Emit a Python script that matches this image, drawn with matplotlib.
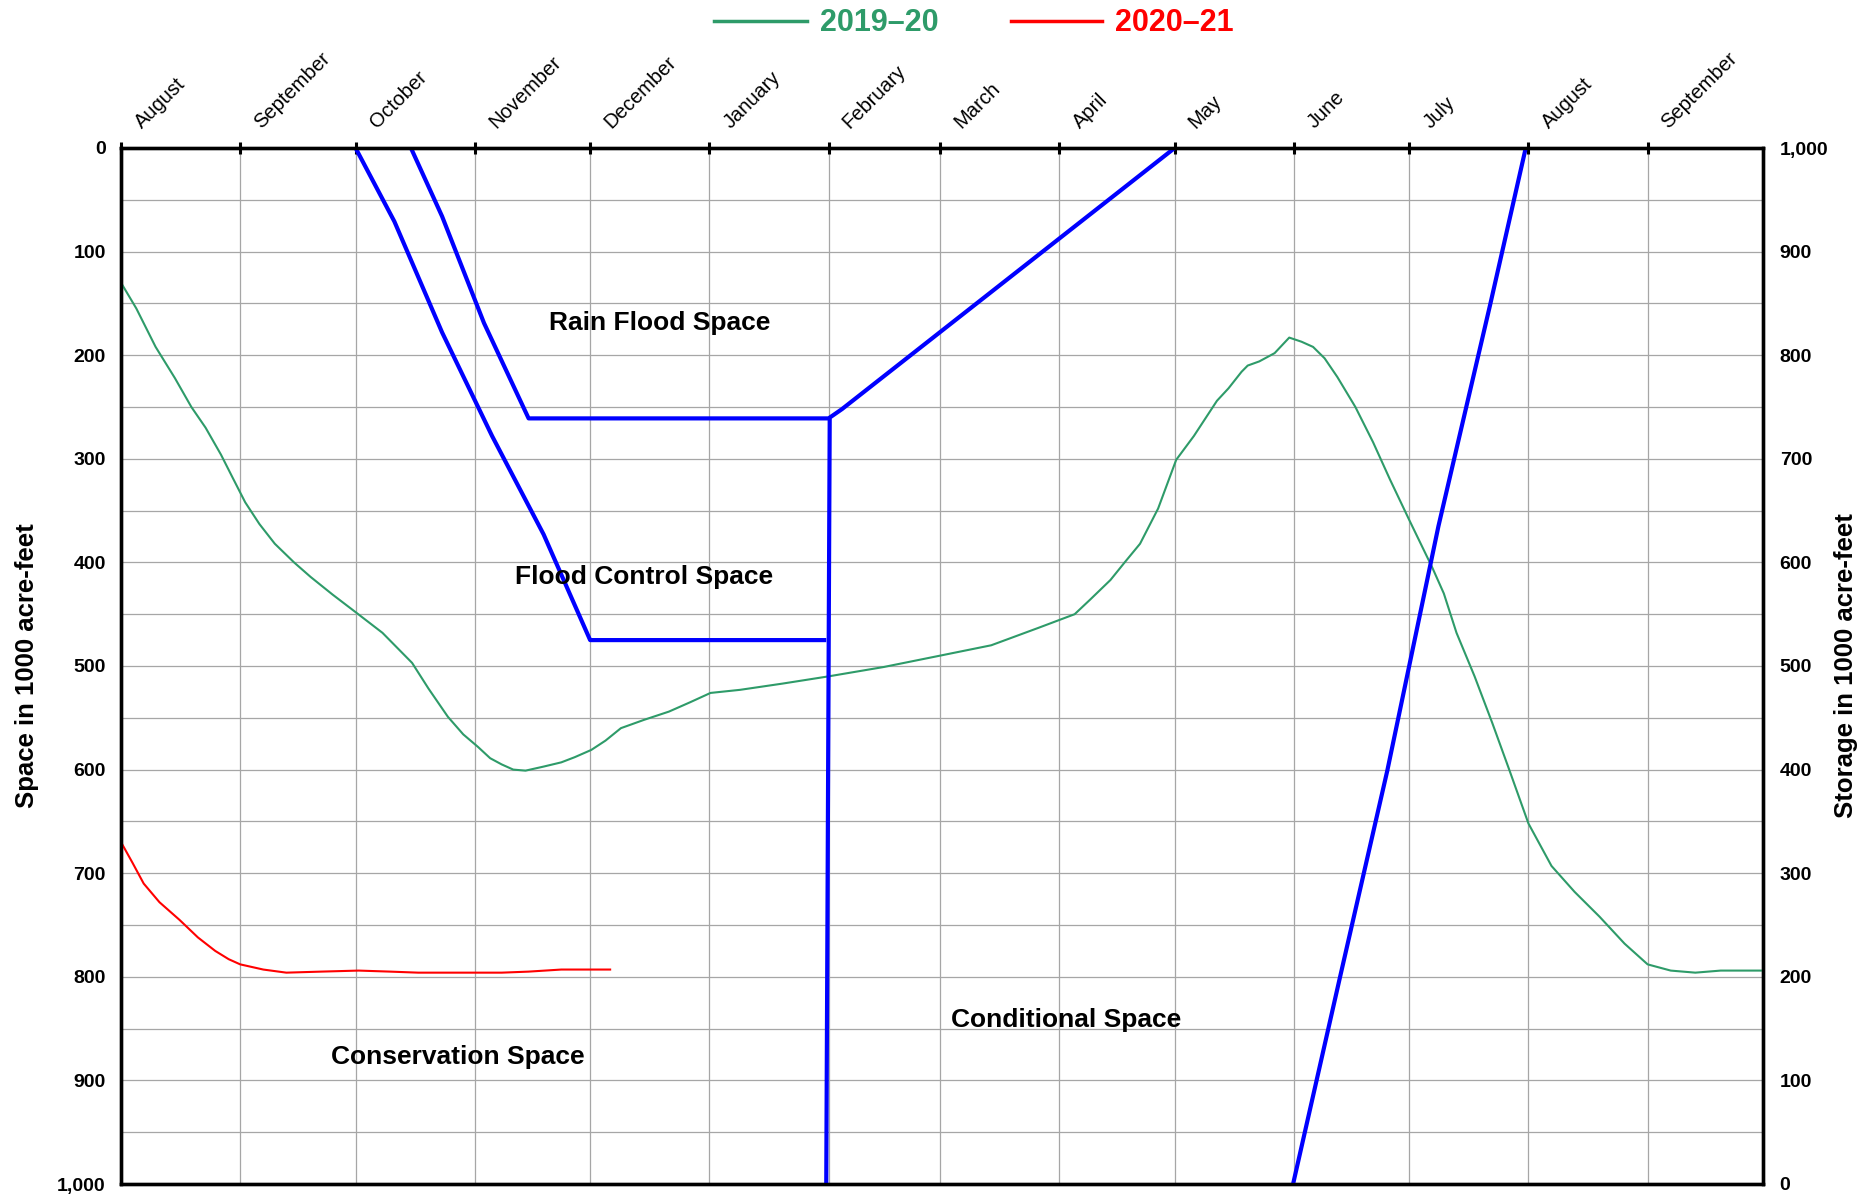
import matplotlib
matplotlib.use("Agg")
import matplotlib.pyplot as plt
from matplotlib.ticker import FuncFormatter, MultipleLocator
import matplotlib.transforms as mtransforms

plt.rcParams['font.family'] = ['Liberation Sans', 'DejaVu Sans']

# Month starts (days since Aug 1, 2019) and labels
month_starts = [0, 31, 61, 92, 122, 153, 184, 213, 244, 274, 305, 335, 366, 397]
month_labels = ["August", "September", "October", "November", "December", "January",
                "February", "March", "April", "May", "June", "July", "August", "September"]
x_end = 427

# 2019-20 space (1000 acre-feet), day offsets
g_day = [0, 4, 9, 14, 18.3, 22, 26, 29, 32.3, 36, 40, 45, 49.3, 55, 61, 68, 75.7, 80, 85, 89,
         92.8, 96, 99, 102, 105.2, 110, 114.5, 118, 122.3, 126, 130, 136, 142.5, 148, 153.3,
         161, 172, 184, 198.3, 213, 226.3, 238.7, 248, 252, 257.3, 261, 265, 269.7,
         274.4, 279, 285, 288, 291.4, 293, 296, 300, 303.8, 307, 310, 313, 316.3, 321, 325.6,
         330, 335, 341, 344, 347.3, 352, 356.6, 361, 366, 372, 378, 384.5, 391, 397, 403,
         409.4, 416, 427]
g_val = [130, 155, 192, 222, 250, 270, 296, 318, 342, 363, 382, 400, 414, 431, 448, 468, 497,
         522, 549, 566, 578, 589, 595, 600, 601, 597, 593, 588, 581, 572, 560, 552, 544, 535,
         526, 523, 517, 510, 501, 490, 480, 463, 450, 436, 417, 400, 382, 348,
         301, 278, 244, 232, 216, 210, 206, 198, 183, 187, 192, 203, 221, 250, 284,
         320, 359, 405, 430, 468, 510, 555, 600, 652, 693, 718, 742, 768, 788, 794,
         796, 794, 794]

# 2020-21 space
r_day = [0, 3, 5.9, 10, 15.2, 20, 24.5, 28, 31, 37, 43, 52, 61.8, 70, 77.3, 88, 99, 106, 114.5, 120, 127.2]
r_val = [670, 690, 710, 728, 745, 762, 775, 783, 788, 793, 796, 795, 794, 795, 796, 796, 796, 795, 793, 793, 793]

# Flood control space boundary
fc_day = [61, 71.1, 83.5, 96.5, 109.9, 122, 183.4]
fc_val = [0, 71, 178, 278, 373, 475, 475]

# Rain flood space boundary
rf_day = [75.4, 83.5, 94.4, 106, 184, 187.5, 274]
rf_val = [0, 66, 169, 261, 261, 252, 0]

# Conditional space vertical boundary
cv_day = [184.3, 183.4]
cv_val = [261, 1000]

# Conditional space (summer) boundary
cs_day = [304.8, 316.9, 329.3, 342.6, 356, 365.3]
cs_val = [1000, 802, 601, 365, 152, 0]

# Region labels
region_text = ["Rain Flood Space", "Flood Control Space", "Conditional Space", "Conservation Space"]
region_day = [140, 136, 245.8, 87.5]
region_val = [169, 414, 842, 877]

GREEN = '#2E9B69'
RED = '#FF0000'
BLUE = '#0000FF'

fig = plt.figure(figsize=(18.73, 11.98), dpi=100)
ax = fig.add_axes([121/1873, 1 - 1184/1198, (1763-121)/1873, (1184-148)/1198])

ax.set_xlim(0, x_end)
ax.set_ylim(1000, 0)

# grid
for d in month_starts[1:]:
    ax.axvline(d, color='#A6A6A6', lw=0.9, zorder=0)
for v in range(50, 1000, 50):
    ax.axhline(v, color='#A6A6A6', lw=0.9, zorder=0)

ax.plot(g_day, g_val, color=GREEN, lw=1.5, zorder=3)
ax.plot(r_day, r_val, color=RED, lw=1.5, zorder=3)
for xd, yv in [(fc_day, fc_val), (rf_day, rf_val), (cv_day, cv_val), (cs_day, cs_val)]:
    ax.plot(xd, yv, color=BLUE, lw=3, zorder=4, solid_capstyle='butt')

for t, d, v in zip(region_text, region_day, region_val):
    ax.text(d, v, t, ha='center', va='center', fontsize=19, fontweight='bold', zorder=5)

# left axis
ax.yaxis.set_major_locator(MultipleLocator(100))
ax.yaxis.set_major_formatter(FuncFormatter(lambda v, p: f"{int(v):,}"))
ax.tick_params(axis='y', length=0, labelsize=14, pad=11)
for lab in ax.get_yticklabels():
    lab.set_fontweight('bold')
ax.set_ylabel("Space in 1000 acre-feet", fontsize=18.5, fontweight='bold', labelpad=13)

# x axis: ticks on top
ax.xaxis.tick_top()
ax.set_xticks(month_starts)
ax.set_xticklabels([])
ax.tick_params(axis='x', direction='inout', length=9, width=2.2, top=True, bottom=False)

for sp in ax.spines.values():
    sp.set_linewidth(2.4)

# month labels
trans = mtransforms.blended_transform_factory(ax.transData, ax.transAxes)
for d, lab in zip(month_starts, month_labels):
    t = mtransforms.offset_copy(trans, fig=fig, x=24, y=16, units='dots')
    ax.text(d, 1.0, lab, transform=t, rotation=45, rotation_mode='anchor',
            ha='left', va='bottom', fontsize=14.5)

# right axis
ax2 = ax.twinx()
ax2.set_ylim(0, 1000)
ax2.yaxis.set_major_locator(MultipleLocator(100))
ax2.yaxis.set_major_formatter(FuncFormatter(lambda v, p: f"{int(v):,}"))
ax2.tick_params(axis='y', length=0, labelsize=14, pad=12)
for lab in ax2.get_yticklabels():
    lab.set_fontweight('bold')
ax2.set_ylabel("Storage in 1000 acre-feet", fontsize=18.5, fontweight='bold', labelpad=4)
for sp in ax2.spines.values():
    sp.set_linewidth(2.4)

# legend at top
legend_fam = ['Liberation Sans Narrow', 'Liberation Sans', 'DejaVu Sans']
fig.lines.append(plt.Line2D([714/1873, 807/1873], [1 - 21/1198]*2, color=GREEN, lw=2.5,
                            transform=fig.transFigure))
fig.text(820/1873, 1 - 23/1198, "2019\u201320", color=GREEN, fontsize=22, fontweight='bold',
         family=legend_fam, ha='left', va='center')
fig.lines.append(plt.Line2D([1011/1873, 1102/1873], [1 - 21/1198]*2, color=RED, lw=2.5,
                            transform=fig.transFigure))
fig.text(1115/1873, 1 - 23/1198, "2020\u201321", color=RED, fontsize=22, fontweight='bold',
         family=legend_fam, ha='left', va='center')

fig.savefig("out.png", dpi=100)
